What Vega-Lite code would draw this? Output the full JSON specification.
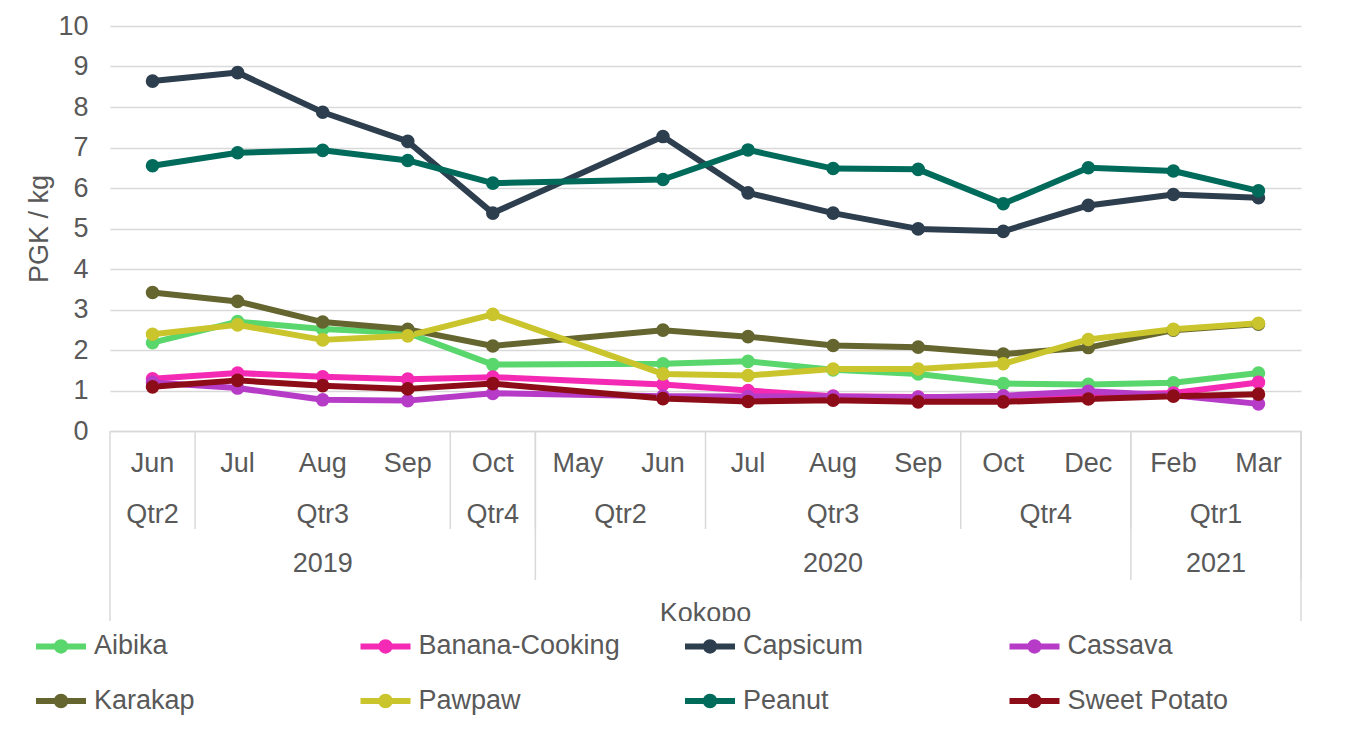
{
  "$schema": "https://vega.github.io/schema/vega-lite/v6.json",
  "background": "white",
  "padding": {"left": 25, "top": 12, "right": 5, "bottom": 5},
  "bounds": "flush",
  "config": {
    "font": "Liberation Sans",
    "view": {"stroke": null},
    "concat": {"spacing": 0}
  },
  "datasets": {
    "prices": [
      {"period": "2019-06", "Aibika": 2.18, "Banana-Cooking": 1.29, "Capsicum": 8.64, "Cassava": 1.20, "Karakap": 3.42, "Pawpaw": 2.39, "Peanut": 6.55, "Sweet Potato": 1.09},
      {"period": "2019-07", "Aibika": 2.70, "Banana-Cooking": 1.43, "Capsicum": 8.85, "Cassava": 1.06, "Karakap": 3.20, "Pawpaw": 2.62, "Peanut": 6.87, "Sweet Potato": 1.25},
      {"period": "2019-08", "Aibika": 2.52, "Banana-Cooking": 1.34, "Capsicum": 7.87, "Cassava": 0.77, "Karakap": 2.69, "Pawpaw": 2.25, "Peanut": 6.93, "Sweet Potato": 1.12},
      {"period": "2019-09", "Aibika": 2.42, "Banana-Cooking": 1.28, "Capsicum": 7.15, "Cassava": 0.75, "Karakap": 2.51, "Pawpaw": 2.35, "Peanut": 6.68, "Sweet Potato": 1.04},
      {"period": "2019-10", "Aibika": 1.64, "Banana-Cooking": 1.33, "Capsicum": 5.38, "Cassava": 0.93, "Karakap": 2.10, "Pawpaw": 2.88, "Peanut": 6.12, "Sweet Potato": 1.17},
      {"period": "2020-06", "Aibika": 1.66, "Banana-Cooking": 1.15, "Capsicum": 7.27, "Cassava": 0.86, "Karakap": 2.49, "Pawpaw": 1.41, "Peanut": 6.21, "Sweet Potato": 0.80},
      {"period": "2020-07", "Aibika": 1.72, "Banana-Cooking": 1.00, "Capsicum": 5.88, "Cassava": 0.85, "Karakap": 2.33, "Pawpaw": 1.37, "Peanut": 6.94, "Sweet Potato": 0.73},
      {"period": "2020-08", "Aibika": 1.51, "Banana-Cooking": 0.86, "Capsicum": 5.38, "Cassava": 0.85, "Karakap": 2.11, "Pawpaw": 1.53, "Peanut": 6.48, "Sweet Potato": 0.76},
      {"period": "2020-09", "Aibika": 1.41, "Banana-Cooking": 0.84, "Capsicum": 4.99, "Cassava": 0.83, "Karakap": 2.07, "Pawpaw": 1.53, "Peanut": 6.46, "Sweet Potato": 0.72},
      {"period": "2020-10", "Aibika": 1.17, "Banana-Cooking": 0.83, "Capsicum": 4.93, "Cassava": 0.87, "Karakap": 1.90, "Pawpaw": 1.66, "Peanut": 5.61, "Sweet Potato": 0.72},
      {"period": "2020-12", "Aibika": 1.15, "Banana-Cooking": 0.88, "Capsicum": 5.57, "Cassava": 0.98, "Karakap": 2.06, "Pawpaw": 2.26, "Peanut": 6.50, "Sweet Potato": 0.79},
      {"period": "2021-02", "Aibika": 1.19, "Banana-Cooking": 0.94, "Capsicum": 5.84, "Cassava": 0.88, "Karakap": 2.49, "Pawpaw": 2.51, "Peanut": 6.42, "Sweet Potato": 0.86},
      {"period": "2021-03", "Aibika": 1.43, "Banana-Cooking": 1.20, "Capsicum": 5.76, "Cassava": 0.67, "Karakap": 2.64, "Pawpaw": 2.66, "Peanut": 5.93, "Sweet Potato": 0.91}
    ],
    "months": [
      {"market": "Kokopo", "year": "2019", "qtr": "Qtr2", "month": "Jun", "period": "2019-06"},
      {"market": "Kokopo", "year": "2019", "qtr": "Qtr3", "month": "Jul", "period": "2019-07"},
      {"market": "Kokopo", "year": "2019", "qtr": "Qtr3", "month": "Aug", "period": "2019-08"},
      {"market": "Kokopo", "year": "2019", "qtr": "Qtr3", "month": "Sep", "period": "2019-09"},
      {"market": "Kokopo", "year": "2019", "qtr": "Qtr4", "month": "Oct", "period": "2019-10"},
      {"market": "Kokopo", "year": "2020", "qtr": "Qtr2", "month": "May", "period": "2020-05"},
      {"market": "Kokopo", "year": "2020", "qtr": "Qtr2", "month": "Jun", "period": "2020-06"},
      {"market": "Kokopo", "year": "2020", "qtr": "Qtr3", "month": "Jul", "period": "2020-07"},
      {"market": "Kokopo", "year": "2020", "qtr": "Qtr3", "month": "Aug", "period": "2020-08"},
      {"market": "Kokopo", "year": "2020", "qtr": "Qtr3", "month": "Sep", "period": "2020-09"},
      {"market": "Kokopo", "year": "2020", "qtr": "Qtr4", "month": "Oct", "period": "2020-10"},
      {"market": "Kokopo", "year": "2020", "qtr": "Qtr4", "month": "Dec", "period": "2020-12"},
      {"market": "Kokopo", "year": "2021", "qtr": "Qtr1", "month": "Feb", "period": "2021-02"},
      {"market": "Kokopo", "year": "2021", "qtr": "Qtr1", "month": "Mar", "period": "2021-03"}
    ]
  },
  "resolve": {"scale": {"x": "independent", "y": "independent"}},
  "vconcat": [
    {
      "width": 1191,
      "height": 405,
      "data": {"name": "prices"},
      "transform": [
        {"fold": ["Aibika", "Banana-Cooking", "Capsicum", "Cassava", "Karakap", "Pawpaw", "Peanut", "Sweet Potato"], "as": ["item", "price"]}
      ],
      "encoding": {
        "x": {
          "field": "period", "type": "ordinal",
          "scale": {"type": "point", "padding": 0.5, "domain": ["2019-06", "2019-07", "2019-08", "2019-09", "2019-10", "2020-05", "2020-06", "2020-07", "2020-08", "2020-09", "2020-10", "2020-12", "2021-02", "2021-03"]},
          "axis": {"title": null, "labels": false, "ticks": false, "grid": false, "domainColor": "#D9D9D9", "domainWidth": 1.5}
        },
        "y": {
          "field": "price", "type": "quantitative",
          "scale": {"domain": [0, 10], "nice": false},
          "axis": {
            "title": "PGK / kg", "values": [0, 1, 2, 3, 4, 5, 6, 7, 8, 9, 10],
            "domain": false, "ticks": false, "tickSize": 0, "labelPadding": 22,
            "labelFontSize": 27, "labelColor": "#595959",
            "titleFontSize": 27, "titleFontWeight": "normal", "titleColor": "#595959", "titlePadding": 4,
            "grid": true, "gridColor": "#D9D9D9", "gridWidth": 1.5
          }
        },
        "color": {
          "field": "item", "type": "nominal",
          "scale": {
            "domain": ["Aibika", "Banana-Cooking", "Capsicum", "Cassava", "Karakap", "Pawpaw", "Peanut", "Sweet Potato"],
            "range": ["#59D66C", "#F52AB4", "#2D3E4F", "#B63CC8", "#656530", "#CAC52C", "#006B5B", "#8C0D17"]
          },
          "legend": {
            "title": null, "orient": "none", "legendX": -77, "legendY": 592,
            "direction": "horizontal", "columns": 4, "gridAlign": "all",
            "symbolType": "M-1,0H1M-0.17,0A0.17,0.17,0,1,1,0.17,0A0.17,0.17,0,1,1,-0.17,0Z",
            "symbolSize": 2500, "symbolStrokeWidth": 6,
            "labelFontSize": 27, "labelColor": "#595959", "labelOffset": 5, "labelLimit": 400,
            "columnPadding": 52.5, "rowPadding": 10,
            "encode": {
              "symbols": {
                "update": {
                  "fill": {"scale": "color", "field": "value"},
                  "stroke": {"scale": "color", "field": "value"},
                  "opacity": {"value": 1},
                  "fillOpacity": {"value": 1},
                  "strokeOpacity": {"value": 1}
                }
              }
            }
          }
        }
      },
      "layer": [
        {"mark": {"type": "line", "strokeWidth": 6, "strokeJoin": "round", "strokeCap": "round"}},
        {"mark": {"type": "point", "filled": true, "size": 185, "opacity": 1}}
      ]
    },
    {
      "width": 1191,
      "height": 190,
      "data": {"name": "months"},
      "transform": [
        {"window": [{"op": "row_number", "as": "n"}], "sort": [{"field": "period"}]}
      ],
      "resolve": {"scale": {"x": "independent"}},
      "layer": [
        {
          "mark": {"type": "text", "fontSize": 27, "color": "#595959"},
          "encoding": {
            "x": {"field": "n", "type": "quantitative", "scale": {"domain": [0.5, 14.5], "nice": false, "zero": false}, "axis": null},
            "y": {"datum": 0.66, "type": "quantitative", "scale": {"domain": [0, 3.8], "reverse": true, "nice": false, "zero": false}, "axis": null},
            "text": {"field": "month"}
          }
        },
        {
          "transform": [{"aggregate": [{"op": "mean", "field": "n", "as": "c"}], "groupby": ["year", "qtr"]}],
          "mark": {"type": "text", "fontSize": 27, "color": "#595959"},
          "encoding": {
            "x": {"field": "c", "type": "quantitative", "scale": {"domain": [0.5, 14.5], "nice": false, "zero": false}, "axis": null},
            "y": {"datum": 1.68, "type": "quantitative", "scale": {"domain": [0, 3.8], "reverse": true, "nice": false, "zero": false}, "axis": null},
            "text": {"field": "qtr"}
          }
        },
        {
          "transform": [{"aggregate": [{"op": "mean", "field": "n", "as": "c"}], "groupby": ["year"]}],
          "mark": {"type": "text", "fontSize": 27, "color": "#595959"},
          "encoding": {
            "x": {"field": "c", "type": "quantitative", "scale": {"domain": [0.5, 14.5], "nice": false, "zero": false}, "axis": null},
            "y": {"datum": 2.66, "type": "quantitative", "scale": {"domain": [0, 3.8], "reverse": true, "nice": false, "zero": false}, "axis": null},
            "text": {"field": "year"}
          }
        },
        {
          "transform": [{"aggregate": [{"op": "mean", "field": "n", "as": "c"}], "groupby": ["market"]}],
          "mark": {"type": "text", "fontSize": 27, "color": "#595959", "clip": true},
          "encoding": {
            "x": {"field": "c", "type": "quantitative", "scale": {"domain": [0.5, 14.5], "nice": false, "zero": false}, "axis": null},
            "y": {"datum": 3.66, "type": "quantitative", "scale": {"domain": [0, 3.8], "reverse": true, "nice": false, "zero": false}, "axis": null},
            "text": {"field": "market"}
          }
        },
        {
          "transform": [{"aggregate": [{"op": "max", "field": "n", "as": "e"}], "groupby": ["year", "qtr"]}],
          "mark": {"type": "rule", "color": "#D9D9D9", "strokeWidth": 1.5},
          "encoding": {
            "x": {"field": "e", "type": "quantitative", "scale": {"domain": [0, 14], "nice": false, "zero": false}, "axis": null},
            "y": {"datum": 0, "type": "quantitative", "scale": {"domain": [0, 3.8], "reverse": true, "nice": false, "zero": false}, "axis": null},
            "y2": {"datum": 1.96}
          }
        },
        {
          "transform": [{"aggregate": [{"op": "max", "field": "n", "as": "e"}], "groupby": ["year"]}],
          "mark": {"type": "rule", "color": "#D9D9D9", "strokeWidth": 1.5},
          "encoding": {
            "x": {"field": "e", "type": "quantitative", "scale": {"domain": [0, 14], "nice": false, "zero": false}, "axis": null},
            "y": {"datum": 0, "type": "quantitative", "scale": {"domain": [0, 3.8], "reverse": true, "nice": false, "zero": false}, "axis": null},
            "y2": {"datum": 2.98}
          }
        },
        {
          "transform": [{"aggregate": [{"op": "max", "field": "n", "as": "e"}], "groupby": ["market"]}],
          "mark": {"type": "rule", "color": "#D9D9D9", "strokeWidth": 1.5},
          "encoding": {
            "x": {"field": "e", "type": "quantitative", "scale": {"domain": [0, 14], "nice": false, "zero": false}, "axis": null},
            "y": {"datum": 0, "type": "quantitative", "scale": {"domain": [0, 3.8], "reverse": true, "nice": false, "zero": false}, "axis": null},
            "y2": {"datum": 3.8}
          }
        },
        {
          "transform": [{"aggregate": [{"op": "max", "field": "n", "as": "e"}], "groupby": ["market"]}],
          "mark": {"type": "rule", "color": "#D9D9D9", "strokeWidth": 1.5},
          "encoding": {
            "x": {"datum": 0, "type": "quantitative", "scale": {"domain": [0, 14], "nice": false, "zero": false}, "axis": null},
            "y": {"datum": 0, "type": "quantitative", "scale": {"domain": [0, 3.8], "reverse": true, "nice": false, "zero": false}, "axis": null},
            "y2": {"datum": 3.8}
          }
        }
      ]
    }
  ]
}
